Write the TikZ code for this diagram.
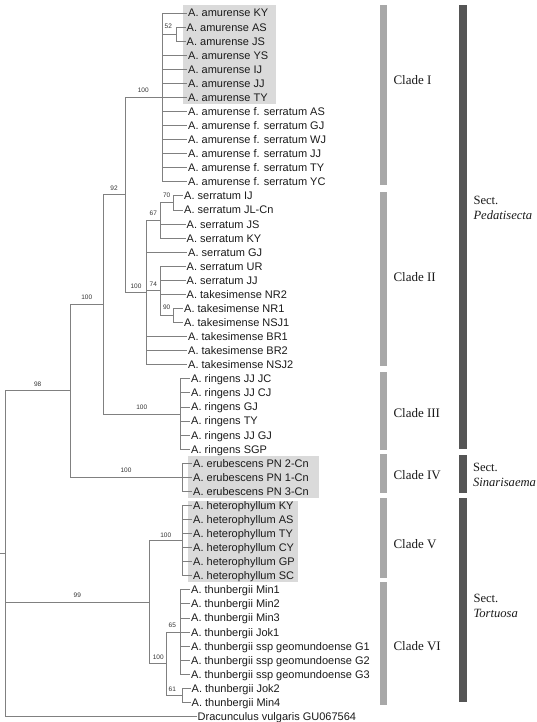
\documentclass[tikz,border=0pt]{standalone}
\usepackage{fontspec}
\setmainfont{Liberation Serif}
\setsansfont{Liberation Sans}
\definecolor{brc}{HTML}{808080}
\definecolor{boxc}{HTML}{DADADA}
\definecolor{cladec}{HTML}{A8A8A8}
\definecolor{sectc}{HTML}{555555}
\definecolor{leafc}{HTML}{1A1A1A}
\definecolor{bsc}{HTML}{333333}
\newcommand{\rowy}[1]{13+14.07*#1}
\tikzset{
  br/.style={draw=brc, line width=0.9pt},
  leaf/.style={anchor=west, inner xsep=1pt, inner ysep=0pt, text height=7.9pt, text depth=0pt,
    font=\sffamily\fontsize{11}{13}\selectfont, text=leafc},
  bs/.style={inner sep=0pt, font=\sffamily\fontsize{6.5}{7}\selectfont, text=bsc},
  cladelab/.style={anchor=west, inner sep=0pt, font=\fontsize{13}{15}\selectfont, text=leafc},
  sectlab/.style={anchor=west, inner sep=0pt, align=left, font=\fontsize{12.6}{15}\selectfont, text=leafc},
}
\begin{document}
\begin{tikzpicture}[x=1pt,y=-1pt]
\useasboundingbox (0,0) rectangle (537,722);
% highlight boxes
\fill[boxc] (182.7,5) rectangle (275.7,104);
\fill[boxc] (188.3,455.7) rectangle (319.3,497.7);
\fill[boxc] (188.3,500.8) rectangle (298.3,581.7);
% internal nodes
\coordinate (root) at (5.7,553.65);
\coordinate (rootstub) at (0,553.65);
\coordinate (n98) at (70,390.8);
\coordinate (nped) at (103.3,304.4);
\coordinate (n92) at (125,194.9);
\coordinate (nc1) at (162.3,\rowy{6});
\coordinate (n52) at (176,\rowy{1.5});
\coordinate (nc2) at (146.7,292.6);
\coordinate (n67) at (160,220.5);
\coordinate (n70) at (173.3,\rowy{13.5});
\coordinate (n74) at (160,290.9);
\coordinate (n90) at (173.3,\rowy{21.5});
\coordinate (nring) at (180,\rowy{28.5});
\coordinate (neru) at (182.7,\rowy{33});
\coordinate (n99) at (149.3,602.2);
\coordinate (nhet) at (182.7,\rowy{37.5});
\coordinate (nc6) at (166.7,663.75);
\coordinate (n65) at (180,\rowy{44});
\coordinate (n61) at (182.7,\rowy{48.5});
% leaves
\node[leaf] (l0) at (187,\rowy{0}) {A. amurense KY};
\node[leaf] (l1) at (185.5,\rowy{1}) {A. amurense AS};
\node[leaf] (l2) at (185.5,\rowy{2}) {A. amurense JS};
\node[leaf] (l3) at (187,\rowy{3}) {A. amurense YS};
\node[leaf] (l4) at (187,\rowy{4}) {A. amurense IJ};
\node[leaf] (l5) at (187,\rowy{5}) {A. amurense JJ};
\node[leaf] (l6) at (187,\rowy{6}) {A. amurense TY};
\node[leaf] (l7) at (187,\rowy{7}) {A. amurense f. serratum AS};
\node[leaf] (l8) at (187,\rowy{8}) {A. amurense f. serratum GJ};
\node[leaf] (l9) at (187,\rowy{9}) {A. amurense f. serratum WJ};
\node[leaf] (l10) at (187,\rowy{10}) {A. amurense f. serratum JJ};
\node[leaf] (l11) at (187,\rowy{11}) {A. amurense f. serratum TY};
\node[leaf] (l12) at (187,\rowy{12}) {A. amurense f. serratum YC};
\node[leaf] (l13) at (183,\rowy{13}) {A. serratum IJ};
\node[leaf] (l14) at (183,\rowy{14}) {A. serratum JL-Cn};
\node[leaf] (l15) at (185.5,\rowy{15}) {A. serratum JS};
\node[leaf] (l16) at (185.5,\rowy{16}) {A. serratum KY};
\node[leaf] (l17) at (187,\rowy{17}) {A. serratum GJ};
\node[leaf] (l18) at (185.5,\rowy{18}) {A. serratum UR};
\node[leaf] (l19) at (185.5,\rowy{19}) {A. serratum JJ};
\node[leaf] (l20) at (185.5,\rowy{20}) {A. takesimense NR2};
\node[leaf] (l21) at (183,\rowy{21}) {A. takesimense NR1};
\node[leaf] (l22) at (183,\rowy{22}) {A. takesimense NSJ1};
\node[leaf] (l23) at (187,\rowy{23}) {A. takesimense BR1};
\node[leaf] (l24) at (187,\rowy{24}) {A. takesimense BR2};
\node[leaf] (l25) at (187,\rowy{25}) {A. takesimense NSJ2};
\node[leaf] (l26) at (190,\rowy{26}) {A. ringens JJ JC};
\node[leaf] (l27) at (190,\rowy{27}) {A. ringens JJ CJ};
\node[leaf] (l28) at (190,\rowy{28}) {A. ringens GJ};
\node[leaf] (l29) at (190,\rowy{29}) {A. ringens TY};
\node[leaf] (l30) at (190,\rowy{30}) {A. ringens JJ GJ};
\node[leaf] (l31) at (190,\rowy{31}) {A. ringens SGP};
\node[leaf] (l32) at (192,\rowy{32}) {A. erubescens PN 2-Cn};
\node[leaf] (l33) at (192,\rowy{33}) {A. erubescens PN 1-Cn};
\node[leaf] (l34) at (192,\rowy{34}) {A. erubescens PN 3-Cn};
\node[leaf] (l35) at (192,\rowy{35}) {A. heterophyllum KY};
\node[leaf] (l36) at (192,\rowy{36}) {A. heterophyllum AS};
\node[leaf] (l37) at (192,\rowy{37}) {A. heterophyllum TY};
\node[leaf] (l38) at (192,\rowy{38}) {A. heterophyllum CY};
\node[leaf] (l39) at (192,\rowy{39}) {A. heterophyllum GP};
\node[leaf] (l40) at (192,\rowy{40}) {A. heterophyllum SC};
\node[leaf] (l41) at (190,\rowy{41}) {A. thunbergii Min1};
\node[leaf] (l42) at (190,\rowy{42}) {A. thunbergii Min2};
\node[leaf] (l43) at (190,\rowy{43}) {A. thunbergii Min3};
\node[leaf] (l44) at (190,\rowy{44}) {A. thunbergii Jok1};
\node[leaf] (l45) at (190,\rowy{45}) {A. thunbergii ssp geomundoense G1};
\node[leaf] (l46) at (190,\rowy{46}) {A. thunbergii ssp geomundoense G2};
\node[leaf] (l47) at (190,\rowy{47}) {A. thunbergii ssp geomundoense G3};
\node[leaf] (l48) at (190.5,\rowy{48}) {A. thunbergii Jok2};
\node[leaf] (l49) at (190.5,\rowy{49}) {A. thunbergii Min4};
\node[leaf] (l50) at (196.5,\rowy{50}) {Dracunculus vulgaris GU067564};
% branches
\draw[br] (rootstub) -- (root);
\draw[br] (root) |- (n98);
\draw[br] (root) |- (n99);
\draw[br] (root) |- (l50.west);
\draw[br] (n98) |- (nped);
\draw[br] (n98) |- (neru);
\draw[br] (nped) |- (n92);
\draw[br] (nped) |- (nring);
\draw[br] (n92) |- (nc1);
\draw[br] (n92) |- (nc2);
\foreach \i in {0,3,4,5,6,7,8,9,10,11,12} \draw[br] (nc1) |- (l\i.west);
\draw[br] (nc1) |- (n52);
\foreach \i in {1,2} \draw[br] (n52) |- (l\i.west);
\draw[br] (nc2) |- (n67);
\draw[br] (nc2) |- (n74);
\foreach \i in {17,23,24,25} \draw[br] (nc2) |- (l\i.west);
\draw[br] (n67) |- (n70);
\foreach \i in {15,16} \draw[br] (n67) |- (l\i.west);
\foreach \i in {13,14} \draw[br] (n70) |- (l\i.west);
\draw[br] (n74) |- (n90);
\foreach \i in {18,19,20} \draw[br] (n74) |- (l\i.west);
\foreach \i in {21,22} \draw[br] (n90) |- (l\i.west);
\foreach \i in {26,...,31} \draw[br] (nring) |- (l\i.west);
\foreach \i in {32,33,34} \draw[br] (neru) |- (l\i.west);
\draw[br] (n99) |- (nhet);
\draw[br] (n99) |- (nc6);
\foreach \i in {35,...,40} \draw[br] (nhet) |- (l\i.west);
\draw[br] (nc6) |- (n65);
\draw[br] (nc6) |- (n61);
\foreach \i in {41,...,47} \draw[br] (n65) |- (l\i.west);
\foreach \i in {48,49} \draw[br] (n61) |- (l\i.west);
% bootstrap values
\node[bs] (b52) at (168.3,26.3) {52};
\node[bs] (bc1) at (143.3,90) {100};
\node[bs] (b92) at (114,188.3) {92};
\node[bs] (bped) at (86.7,297.7) {100};
\node[bs] (b98) at (37.7,384.3) {98};
\node[bs] (b70) at (166.7,195.7) {70};
\node[bs] (b67) at (153.3,213.3) {67};
\node[bs] (bc2) at (136,286) {100};
\node[bs] (b74) at (153.3,284.3) {74};
\node[bs] (b90) at (166.7,307.3) {90};
\node[bs] (bring) at (141.7,407.7) {100};
\node[bs] (beru) at (126,470.7) {100};
\node[bs] (bhet) at (165.7,535) {100};
\node[bs] (b99) at (77.3,595.7) {99};
\node[bs] (b65) at (172.3,625.7) {65};
\node[bs] (bc6) at (158.3,657.3) {100};
\node[bs] (b61) at (172.3,689) {61};
% clade bars
\fill[cladec] (380,5) rectangle (386.7,185);
\fill[cladec] (380,191.7) rectangle (386.7,366);
\fill[cladec] (380,371.7) rectangle (386.7,450);
\fill[cladec] (380,454.3) rectangle (386.7,493.3);
\fill[cladec] (380,497.7) rectangle (386.7,578.3);
\fill[cladec] (380,581.7) rectangle (386.7,705);
% section bars
\fill[sectc] (459.3,5) rectangle (466.7,449.3);
\fill[sectc] (459.3,455) rectangle (466.7,493.3);
\fill[sectc] (459.3,497.7) rectangle (466.7,702.3);
% clade labels
\node[cladelab] (c1) at (393.3,80) {Clade I};
\node[cladelab] (c2) at (393.3,276.7) {Clade II};
\node[cladelab] (c3) at (393.3,412.7) {Clade III};
\node[cladelab] (c4) at (393.3,475) {Clade IV};
\node[cladelab] (c5) at (393.3,544) {Clade V};
\node[cladelab] (c6) at (393.3,645.7) {Clade VI};
% section labels
\node[sectlab] (s1) at (473.3,208.3) {Sect.\\\textit{Pedatisecta}};
\node[sectlab] (s2) at (472.8,474.5) {Sect.\\\textit{Sinarisaema}};
\node[sectlab] (s3) at (473.3,605.8) {Sect.\\\textit{Tortuosa}};
\end{tikzpicture}
\end{document}
